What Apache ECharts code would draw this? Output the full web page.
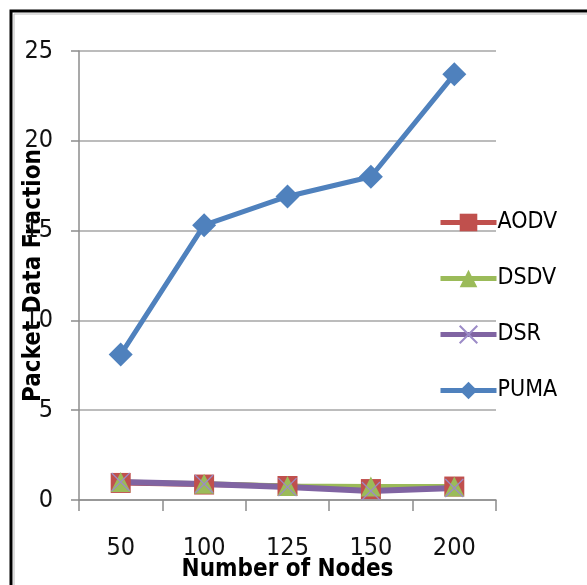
<!DOCTYPE html>
<html>
<head>
<meta charset="utf-8">
<script src="https://cdn.jsdelivr.net/npm/echarts@6/dist/echarts.min.js"></script>
<style>
  html, body { margin: 0; padding: 0; background: #fff; }
  #chart { width: 587px; height: 585px; }
</style>
</head>
<body>
<div id="chart"></div>
<script>
// Packet data fraction per routing protocol vs. network size
const nodeCounts = ['50', '100', '125', '150', '200'];
const aodv = [0.95, 0.86, 0.78, 0.61, 0.75];
const dsdv = [1.0, 0.9, 0.78, 0.75, 0.75];
const dsr  = [1.0, 0.89, 0.72, 0.5, 0.67];
const puma = [8.1, 15.3, 16.9, 18.0, 23.7];
const yTicks = [0, 5, 10, 15, 20, 25];

const FONT = '"Liberation Sans Narrow", "DejaVu Sans Condensed", "Liberation Sans", sans-serif';
const AXIS_GRAY = '#8c8c8c';

const crossPath = 'path://M0,0L10,10M10,0L0,10';

const chart = echarts.init(document.getElementById('chart'), null, { renderer: 'canvas' });

chart.setOption({
  animation: false,
  backgroundColor: '#fff',
  textStyle: { fontFamily: FONT },
  grid: { left: 79, right: 91, top: 51, bottom: 85, outerBoundsMode: 'none', containLabel: false },
  legend: {
    orient: 'vertical',
    left: 433,
    top: 206,
    itemWidth: 56,
    itemHeight: 22,
    itemGap: 33,
    lineStyle: { width: 5 },
    textStyle: { fontFamily: FONT, fontSize: 23, color: '#000', padding: [0, 0, 0, -4] },
    data: ['AODV', 'DSDV', 'DSR', 'PUMA']
  },
  xAxis: {
    type: 'category',
    data: nodeCounts,
    boundaryGap: true,
    name: 'Number of Nodes',
    nameLocation: 'middle',
    nameGap: 58,
    nameMoveOverlap: false,
    nameTextStyle: { fontFamily: FONT, fontSize: 24, fontWeight: 'bold', color: '#000' },
    axisLine: { lineStyle: { color: AXIS_GRAY, width: 1.5 } },
    axisTick: { show: true, length: 11, lineStyle: { color: AXIS_GRAY, width: 1.5 } },
    axisLabel: { margin: 36, fontFamily: FONT, fontSize: 25, color: '#111' }
  },
  yAxis: {
    type: 'value',
    min: yTicks[0],
    max: yTicks[yTicks.length - 1],
    interval: yTicks[1] - yTicks[0],
    name: 'Packet Data Fraction',
    nameLocation: 'middle',
    nameGap: 33,
    nameMoveOverlap: false,
    nameTextStyle: { fontFamily: FONT, fontSize: 24, fontWeight: 'bold', color: '#000' },
    axisLine: { show: true, lineStyle: { color: AXIS_GRAY, width: 1.5 } },
    axisTick: { show: true, length: 8, lineStyle: { color: AXIS_GRAY, width: 1.5 } },
    splitLine: { show: true, lineStyle: { color: '#a6a6a6', width: 1.5 } },
    axisLabel: { margin: 26, fontFamily: FONT, fontSize: 25, color: '#111' }
  },
  series: [
    {
      name: 'AODV', type: 'line', data: aodv,
      symbol: 'rect', symbolSize: 20,
      lineStyle: { color: '#C0504D', width: 5 },
      itemStyle: { color: '#C0504D' }
    },
    {
      name: 'DSDV', type: 'line', data: dsdv,
      symbol: 'triangle', symbolSize: 20,
      lineStyle: { color: '#9BBB59', width: 5 },
      itemStyle: { color: '#9BBB59' }
    },
    {
      name: 'DSR', type: 'line', data: dsr,
      symbol: crossPath, symbolSize: 18,
      lineStyle: { color: '#8064A2', width: 6 },
      itemStyle: { color: 'rgba(0,0,0,0)', borderColor: '#9C8BC7', borderWidth: 1.2 }
    },
    {
      name: 'PUMA', type: 'line', data: puma,
      symbol: 'diamond', symbolSize: 24,
      lineStyle: { color: '#4F81BD', width: 5 },
      itemStyle: { color: '#4F81BD' }
    }
  ],
  graphic: [
    // page frame: left and top edges
    {
      type: 'polyline',
      shape: { points: [[11, 600], [11, 11], [600, 11]] },
      style: { fill: null, stroke: '#000', lineWidth: 3 },
      silent: true
    },
    {
      type: 'polyline',
      shape: { points: [[14, 600], [14, 14], [600, 14]] },
      style: { fill: null, stroke: '#bbbbbb', lineWidth: 1 },
      silent: true
    }
  ]
});
</script>
</body>
</html>
